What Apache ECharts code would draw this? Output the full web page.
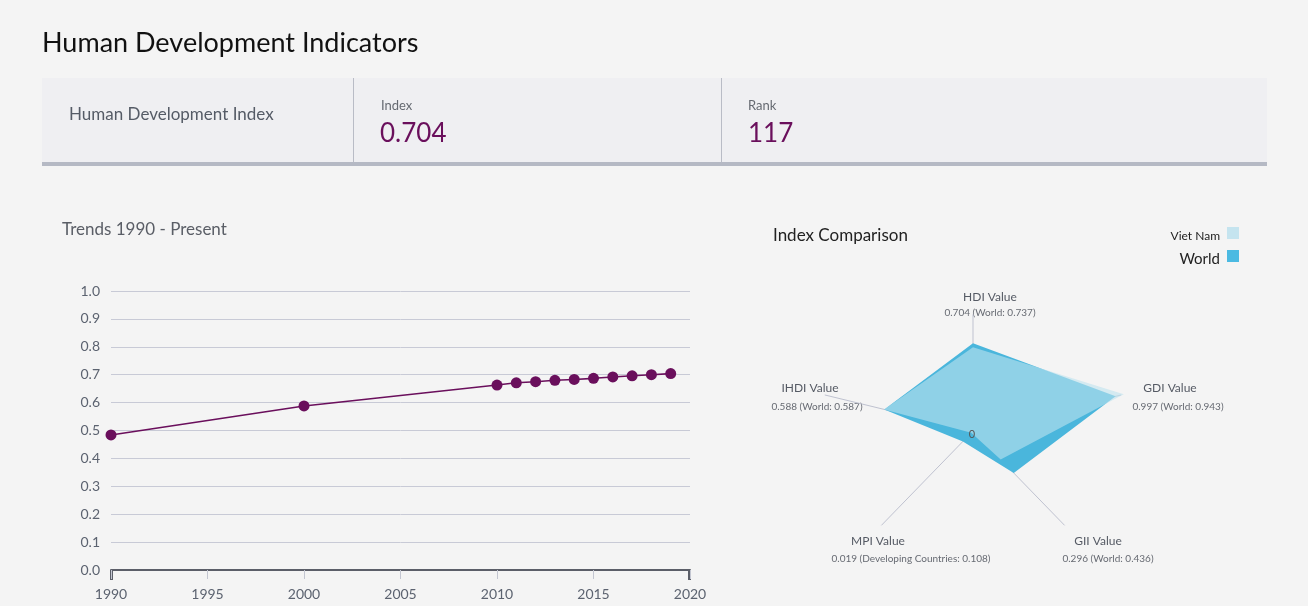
<!DOCTYPE html>
<html><head><meta charset="utf-8">
<script src="https://cdn.jsdelivr.net/npm/echarts@6/dist/echarts.min.js"></script>
<style>
html,body{margin:0;padding:0;background:#f4f4f4;}
#c{width:1308px;height:606px;}
</style></head>
<body><div id="c"></div>
<script>
// ---- data ----
const years = [1990, 2000, 2010, 2011, 2012, 2013, 2014, 2015, 2016, 2017, 2018, 2019];
const hdiValues = [0.484, 0.588, 0.663, 0.671, 0.675, 0.680, 0.683, 0.687, 0.692, 0.696, 0.700, 0.704];
const yTicks = [0, 0.1, 0.2, 0.3, 0.4, 0.5, 0.6, 0.7, 0.8, 0.9, 1.0];
const xTicks = [1990, 1995, 2000, 2005, 2010, 2015, 2020];

const indicators = ['HDI Value', 'GDI Value', 'GII Value', 'MPI Value', 'IHDI Value'];
const vietNam = [0.704, 0.997, 0.296, 0.019, 0.588];
const world = [0.737, 0.943, 0.436, 0.108, 0.587];
const compareNames = ['World', 'World', 'World', 'Developing Countries', 'World'];

const hdiIndex = '0.704';
const hdiRank = '117';

// ---- layout / style ----
const FONT = 'Lato';
const PURPLE = '#6a0f5c';
const angles = indicators.map((_, i) => (90 - i * 72) * Math.PI / 180);
const toXY = (v, i) => [v * Math.cos(angles[i]), v * Math.sin(angles[i])];

function polygonSeries(name, values, fill, opacity, z) {
  return {
    type: 'custom', name: name, xAxisIndex: 1, yAxisIndex: 1, z: z,
    data: values.map((v, i) => toXY(v, i)),
    silent: true,
    renderItem: function (params, api) {
      if (params.dataIndex !== 0) return null;
      const pts = values.map((v, i) => api.coord(toXY(v, i)));
      return { type: 'polygon', shape: { points: pts }, style: { fill: fill, opacity: opacity } };
    }
  };
}

// label positions (layout only)
const radarLabelPos = [
  [990, 297, 990, 313],
  [1170, 388, 1178, 407],
  [1098, 541, 1108, 559],
  [878, 541, 911, 559],
  [810, 388, 817, 407]
];

const graphics = [
  { type: 'text', left: 42, top: 30, style: { text: 'Human Development Indicators', font: '27px ' + FONT, fill: '#111' } },
  { type: 'rect', shape: { x: 42, y: 78, width: 1225, height: 84 }, style: { fill: '#efeff2' } },
  { type: 'rect', shape: { x: 42, y: 162, width: 1225, height: 4 }, style: { fill: '#b5b9c4' } },
  { type: 'rect', shape: { x: 353, y: 78, width: 1, height: 84 }, style: { fill: '#b9bcc6' } },
  { type: 'rect', shape: { x: 721, y: 78, width: 1, height: 84 }, style: { fill: '#b9bcc6' } },
  { type: 'text', x: 69, y: 115, style: { text: 'Human Development Index', font: '17px ' + FONT, fill: '#555b66', textVerticalAlign: 'middle' } },
  { type: 'text', x: 381, y: 106, style: { text: 'Index', font: '13px ' + FONT, fill: '#666a72', textVerticalAlign: 'middle' } },
  { type: 'text', x: 380, y: 134, style: { text: hdiIndex, font: '26px ' + FONT, fill: PURPLE, textVerticalAlign: 'middle' } },
  { type: 'text', x: 748, y: 106, style: { text: 'Rank', font: '13px ' + FONT, fill: '#666a72', textVerticalAlign: 'middle' } },
  { type: 'text', x: 748, y: 134, style: { text: hdiRank, font: '26px ' + FONT, fill: PURPLE, textVerticalAlign: 'middle' } },
  { type: 'text', x: 62, y: 230, style: { text: 'Trends 1990 - Present', font: '17px ' + FONT, fill: '#5a5e66', textVerticalAlign: 'middle' } },
  { type: 'text', x: 773, y: 236, style: { text: 'Index Comparison', font: '17px ' + FONT, fill: '#222', textVerticalAlign: 'middle' } },
  // legend
  { type: 'text', x: 1220, y: 236, style: { text: 'Viet Nam', font: '12px ' + FONT, fill: '#222', textAlign: 'right', textVerticalAlign: 'middle' } },
  { type: 'rect', shape: { x: 1227, y: 227, width: 12, height: 12 }, style: { fill: '#c5e4ef' } },
  { type: 'text', x: 1220, y: 259, style: { text: 'World', font: '15px ' + FONT, fill: '#222', textAlign: 'right', textVerticalAlign: 'middle' } },
  { type: 'rect', shape: { x: 1227, y: 250, width: 12, height: 12 }, style: { fill: '#4bbae2' } },
  // end ticks of x axis
  { type: 'rect', shape: { x: 110, y: 570, width: 3, height: 10 }, style: { fill: '#5b5e68' } },
  { type: 'rect', shape: { x: 688, y: 570, width: 3, height: 10 }, style: { fill: '#5b5e68' } },
  { type: 'text', x: 972, y: 434, style: { text: '0', font: '11px ' + FONT, fill: '#555', textAlign: 'center', textVerticalAlign: 'middle' }, z: 100 }
];
indicators.forEach((name, i) => {
  const p = radarLabelPos[i];
  graphics.push({ type: 'text', x: p[0], y: p[1], style: { text: name, font: '12px ' + FONT, fill: '#555a64', textAlign: 'center', textVerticalAlign: 'middle' } });
  graphics.push({ type: 'text', x: p[2], y: p[3], style: { text: vietNam[i].toFixed(3) + ' (' + compareNames[i] + ': ' + world[i].toFixed(3) + ')', font: '10px ' + FONT, fill: '#666a72', textAlign: 'center', textVerticalAlign: 'middle' } });
});

const chart = echarts.init(document.getElementById('c'));
chart.setOption({
  animation: false,
  backgroundColor: '#f4f4f4',
  textStyle: { fontFamily: FONT },
  grid: [
    { left: 111, right: 618, top: 291, bottom: 36 },
    { left: 814, width: 318, top: 312, height: 238 }
  ],
  xAxis: [
    {
      type: 'value', gridIndex: 0, min: xTicks[0], max: xTicks[xTicks.length - 1], interval: 5,
      axisLine: { show: true, lineStyle: { color: '#5b5e68', width: 2 } },
      axisTick: { show: true, length: 9, lineStyle: { color: '#c3c6d1', width: 1 } },
      axisLabel: { color: '#5c6370', fontSize: 14, margin: 17, formatter: v => String(v) },
      splitLine: { show: false }
    },
    { type: 'value', gridIndex: 1, min: -1, max: 1, show: false }
  ],
  yAxis: [
    {
      type: 'value', gridIndex: 0, min: yTicks[0], max: yTicks[yTicks.length - 1], interval: 0.1,
      axisLine: { show: false }, axisTick: { show: false },
      axisLabel: { color: '#5c6370', fontSize: 14, margin: 11, formatter: v => v.toFixed(1) },
      splitLine: { lineStyle: { color: '#c8cad6', width: 1 } }
    },
    { type: 'value', gridIndex: 1, min: -1, max: 1, show: false }
  ],
  series: [
    {
      type: 'line', xAxisIndex: 0, yAxisIndex: 0,
      data: years.map((y, i) => [y, hdiValues[i]]),
      symbol: 'circle', symbolSize: 11,
      lineStyle: { color: PURPLE, width: 1.6 },
      itemStyle: { color: PURPLE }
    },
    {
      type: 'custom', xAxisIndex: 1, yAxisIndex: 1, z: 1, silent: true,
      data: indicators.map((_, i) => toXY(0.98, i)),
      renderItem: function (params, api) {
        const c = api.coord([0, 0]);
        const e = api.coord([api.value(0), api.value(1)]);
        return { type: 'line', shape: { x1: c[0], y1: c[1], x2: e[0], y2: e[1] }, style: { stroke: '#bfc2d0', lineWidth: 1 } };
      }
    },
    polygonSeries('World', world, '#4ab6dc', 1, 2),
    polygonSeries('Viet Nam', vietNam, 'rgb(190,226,238)', 0.6, 3)
  ],
  graphic: graphics
});
</script>
</body></html>
